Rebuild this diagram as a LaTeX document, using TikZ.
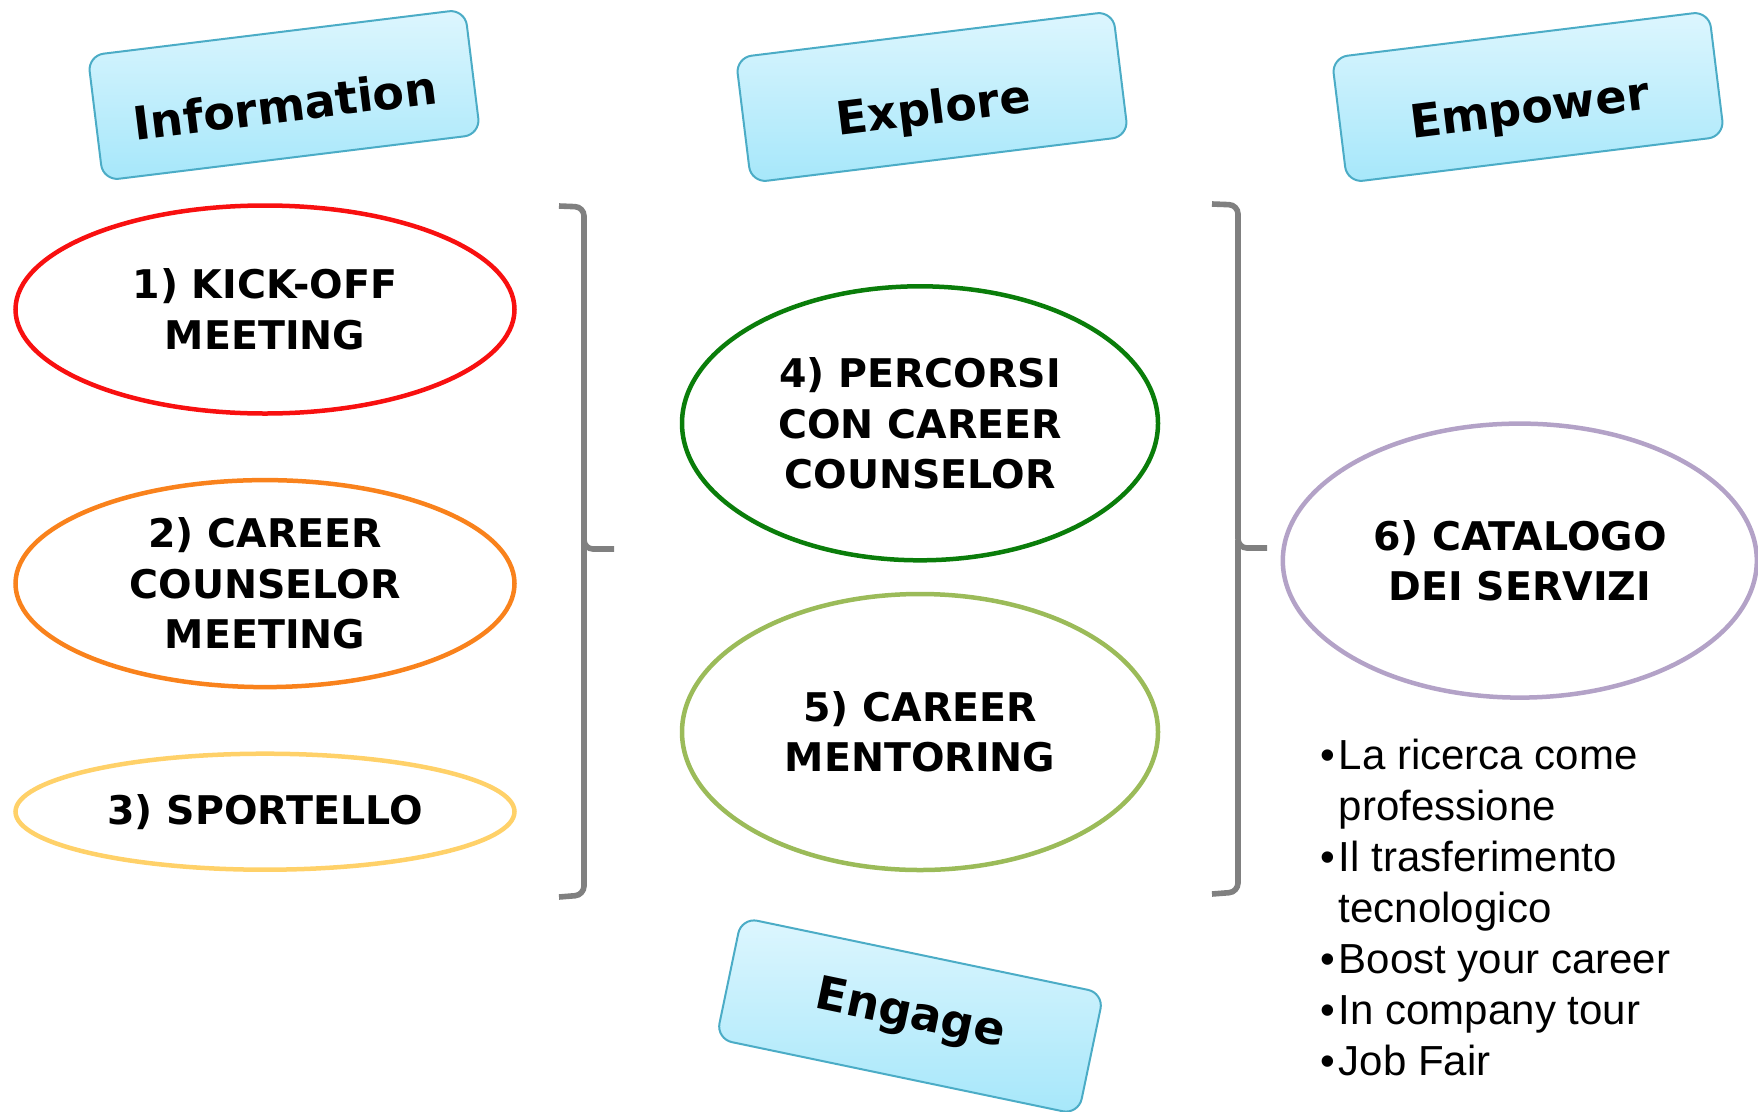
\documentclass[tikz,border=0pt]{standalone}
\usepackage{fontspec}
\setmainfont{DejaVu Sans}
\newfontfamily\arialf{Liberation Sans}
\usetikzlibrary{shapes.geometric}
\definecolor{boxline}{HTML}{4BACC6}
\definecolor{boxtop}{HTML}{DDF6FE}
\definecolor{boxbot}{HTML}{A6E7FA}
\definecolor{cred}{HTML}{F81010}
\definecolor{corange}{HTML}{F9821C}
\definecolor{cyellow}{HTML}{FFD169}
\definecolor{cdgreen}{HTML}{0A7D0A}
\definecolor{clgreen}{HTML}{9BBB59}
\definecolor{cpurple}{HTML}{B3A2C7}
\definecolor{cgray}{HTML}{808080}
\newcommand{\bul}{•\hspace{4pt}}
\newcommand{\bulsp}{\phantom{•}\hspace{4pt}}
\tikzset{
  tagbox/.style={draw=boxline, line width=2pt, rounded corners=16pt,
    top color=boxtop, bottom color=boxbot, minimum width=380pt,
    minimum height=126pt, inner sep=0pt,
    font=\fontsize{46}{54}\selectfont\bfseries},
  lowtext/.style={text height=54pt, text depth=0pt},
  stage/.style={ellipse, draw, line width=4.5pt, inner sep=0pt, align=center,
    font=\fontsize{39.5}{50.5}\selectfont\bfseries},
  brack/.style={draw=cgray, line width=5.6pt, rounded corners=9pt},
  bullet/.style={anchor=base west, align=left, inner sep=0pt,
    font=\arialf\fontsize{42}{51}\selectfont}
}
\begin{document}
\begin{tikzpicture}[x=1pt,y=-1pt]
\useasboundingbox (0,0) rectangle (1758,1111);
% top labels
\node[tagbox, lowtext, rotate=7] (info) at (284,95) {Information};
\node[tagbox, lowtext, rotate=7] (expl) at (932,97) {Explore};
\node[tagbox, lowtext, rotate=7] (empw) at (1528,97) {Empower};
\node[tagbox, rotate=-11.8, minimum width=370pt, minimum height=124pt] (eng) at (910,1016) {Engage};
% stages
\node[stage, draw=cred, minimum width=499pt, minimum height=208pt] (s1) at (265,309.5) {1) KICK-OFF\\MEETING};
\node[stage, draw=corange, minimum width=499pt, minimum height=207pt] (s2) at (265,583.6) {2) CAREER\\COUNSELOR\\MEETING};
\node[stage, draw=cyellow, minimum width=499pt, minimum height=116pt] (s3) at (265,811.7) {3) SPORTELLO};
\node[stage, draw=cdgreen, minimum width=476pt, minimum height=274pt] (s4) at (920,423.3) {4) PERCORSI\\CON CAREER\\COUNSELOR};
\node[stage, draw=clgreen, minimum width=476pt, minimum height=276pt] (s5) at (920,732) {5) CAREER\\MENTORING};
\node[stage, draw=cpurple, minimum width=474pt, minimum height=274pt] (s6) at (1519.8,560.6) {6) CATALOGO\\DEI SERVIZI};
% brackets
\draw[brack] (559,206) -- (584,207) -- (584,549) -- (614,549);
\draw[brack] (584,540) -- (584,895) -- (559,897);
\draw[brack] (1212,204) -- (1238,205) -- (1238,548) -- (1267,548);
\draw[brack] (1238,540) -- (1238,892) -- (1212,894);
% bullet list (base = baseline of last line)
\node[bullet] (b1) at (1320,820) {\bul La ricerca come\\\bulsp professione};
\node[bullet] (b2) at (1320,922) {\bul Il trasferimento\\\bulsp tecnologico};
\node[bullet] (b3) at (1320,973) {\bul Boost your career};
\node[bullet] (b4) at (1320,1024) {\bul In company tour};
\node[bullet] (b5) at (1320,1075) {\bul Job Fair};
\end{tikzpicture}
\end{document}
